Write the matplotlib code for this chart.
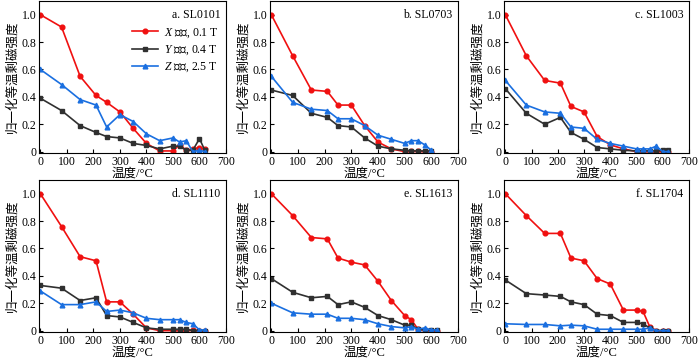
import matplotlib
matplotlib.use("Agg")
import matplotlib.pyplot as plt
from matplotlib.ticker import FuncFormatter

plt.rcParams['font.family'] = ['Liberation Serif', 'Noto Sans CJK SC']
plt.rcParams['mathtext.fontset'] = 'custom'
plt.rcParams['mathtext.it'] = 'Liberation Serif:italic'
plt.rcParams['mathtext.rm'] = 'Liberation Serif'

temps = [0, 80, 150, 210, 250, 300, 350, 400, 450, 500, 525, 550, 575, 600, 620]
temps_b = [0, 80, 150, 210, 250, 300, 350, 400, 450, 500, 525, 550, 575, 600]

titles = ["a. SL0101", "b. SL0703", "c. SL1003", "d. SL1110", "e. SL1613", "f. SL1704"]

# X component (0.1 T)
x_a = [1.0, 0.91, 0.55, 0.41, 0.36, 0.29, 0.17, 0.06, 0.005, 0.005, 0.05, 0.01, 0.02, 0.03, 0.02]
x_b = [1.0, 0.70, 0.45, 0.44, 0.34, 0.34, 0.19, 0.07, 0.02, 0.0, 0.005, 0.005, 0.0, 0.0]
x_c = [1.0, 0.70, 0.52, 0.50, 0.33, 0.29, 0.11, 0.05, 0.02, 0.0, 0.0, 0.0, 0.0, 0.0, 0.0]
x_d = [1.0, 0.76, 0.54, 0.51, 0.21, 0.21, 0.12, 0.02, 0.0, 0.0, 0.0, 0.0, 0.005, 0.0, 0.0]
x_e = [1.0, 0.84, 0.68, 0.67, 0.53, 0.50, 0.48, 0.36, 0.22, 0.11, 0.08, 0.01, 0.005, 0.0, 0.0]
x_f = [1.0, 0.84, 0.71, 0.71, 0.53, 0.51, 0.38, 0.34, 0.15, 0.15, 0.14, 0.03, 0.0, 0.0, 0.0]

# Y component (0.4 T)
y_a = [0.39, 0.30, 0.19, 0.14, 0.11, 0.10, 0.06, 0.045, 0.02, 0.04, 0.04, 0.01, 0.01, 0.095, 0.01]
y_b = [0.45, 0.41, 0.28, 0.25, 0.19, 0.18, 0.10, 0.04, 0.02, 0.01, 0.005, 0.005, 0.005, 0.005]
y_c = [0.46, 0.28, 0.20, 0.25, 0.14, 0.09, 0.03, 0.02, 0.01, 0.005, 0.005, 0.005, 0.005, 0.01, 0.01]
y_d = [0.33, 0.31, 0.22, 0.24, 0.11, 0.10, 0.06, 0.02, 0.01, 0.01, 0.01, 0.01, 0.0, 0.0, 0.0]
y_e = [0.38, 0.28, 0.24, 0.25, 0.19, 0.21, 0.17, 0.11, 0.08, 0.04, 0.04, 0.01, 0.005, 0.005, 0.005]
y_f = [0.37, 0.27, 0.26, 0.25, 0.21, 0.19, 0.12, 0.11, 0.06, 0.06, 0.05, 0.02, 0.0, 0.0, 0.0]

# Z component (2.5 T)
z_a = [0.60, 0.49, 0.38, 0.34, 0.18, 0.27, 0.22, 0.13, 0.08, 0.10, 0.07, 0.08, 0.0, 0.01, 0.0]
z_b = [0.55, 0.36, 0.31, 0.30, 0.24, 0.24, 0.19, 0.12, 0.09, 0.06, 0.08, 0.08, 0.05, 0.01]
z_c = [0.52, 0.34, 0.29, 0.28, 0.18, 0.17, 0.09, 0.06, 0.04, 0.02, 0.02, 0.02, 0.04, 0.0, 0.0]
z_d = [0.29, 0.19, 0.19, 0.21, 0.14, 0.15, 0.13, 0.09, 0.08, 0.08, 0.08, 0.06, 0.05, 0.005, 0.005]
z_e = [0.20, 0.13, 0.12, 0.12, 0.09, 0.09, 0.08, 0.05, 0.03, 0.02, 0.03, 0.01, 0.02, 0.005, 0.005]
z_f = [0.05, 0.045, 0.045, 0.035, 0.04, 0.035, 0.01, 0.01, 0.01, 0.01, 0.01, 0.02, 0.0, 0.0, 0.0]

panels = [
    (temps, x_a, y_a, z_a),
    (temps_b, x_b, y_b, z_b),
    (temps, x_c, y_c, z_c),
    (temps, x_d, y_d, z_d),
    (temps, x_e, y_e, z_e),
    (temps, x_f, y_f, z_f),
]

labels = [r"$\it{X}$ 组分, 0.1 T", r"$\it{Y}$ 组分, 0.4 T", r"$\it{Z}$ 组分, 2.5 T"]
colors = ["#f01010", "#303030", "#1a6fe0"]
markers = ["o", "s", "^"]

W, H = 700, 358
fig = plt.figure(figsize=(7.0, 3.58), dpi=100)
lefts = [39, 270, 504]
widths = [187, 188, 185]
tops = [1, 180]
height = 152

def fmt(v, pos):
    return "0" if abs(v) < 1e-9 else f"{v:.1f}"

for i, (t, xs, ys, zs) in enumerate(panels):
    r, c = divmod(i, 3)
    l = lefts[c]; w = widths[c]; tp = tops[r]
    ax = fig.add_axes([l / W, 1 - (tp + height) / H, w / W, height / H])
    for vals, col, mk, lab in zip([xs, ys, zs], colors, markers, labels):
        ax.plot(t, vals, color=col, marker=mk, markersize=3.4, linewidth=1.2, label=lab)
    ax.set_xlim(-5, 700)
    ax.set_ylim(-0.01, 1.1)
    ax.set_xticks(range(0, 701, 100))
    ax.set_yticks([0, 0.2, 0.4, 0.6, 0.8, 1.0])
    ax.yaxis.set_major_formatter(FuncFormatter(fmt))
    ax.tick_params(direction="in", labelsize=8.5, length=3, pad=2)
    ax.set_xlabel("温度/°C", fontsize=9, labelpad=0)
    ax.set_ylabel("归一化等温剩磁强度", fontsize=9, labelpad=2)
    ax.text(0.97, 0.95, titles[i], transform=ax.transAxes, ha="right", va="top", fontsize=8.5)
    if i == 0:
        ax.legend(loc="upper right", bbox_to_anchor=(1.0, 0.88), frameon=False,
                  fontsize=8.5, handlelength=2.2, handletextpad=0.5, labelspacing=0.3,
                  borderaxespad=0.2)

fig.savefig("out.png", dpi=100)
